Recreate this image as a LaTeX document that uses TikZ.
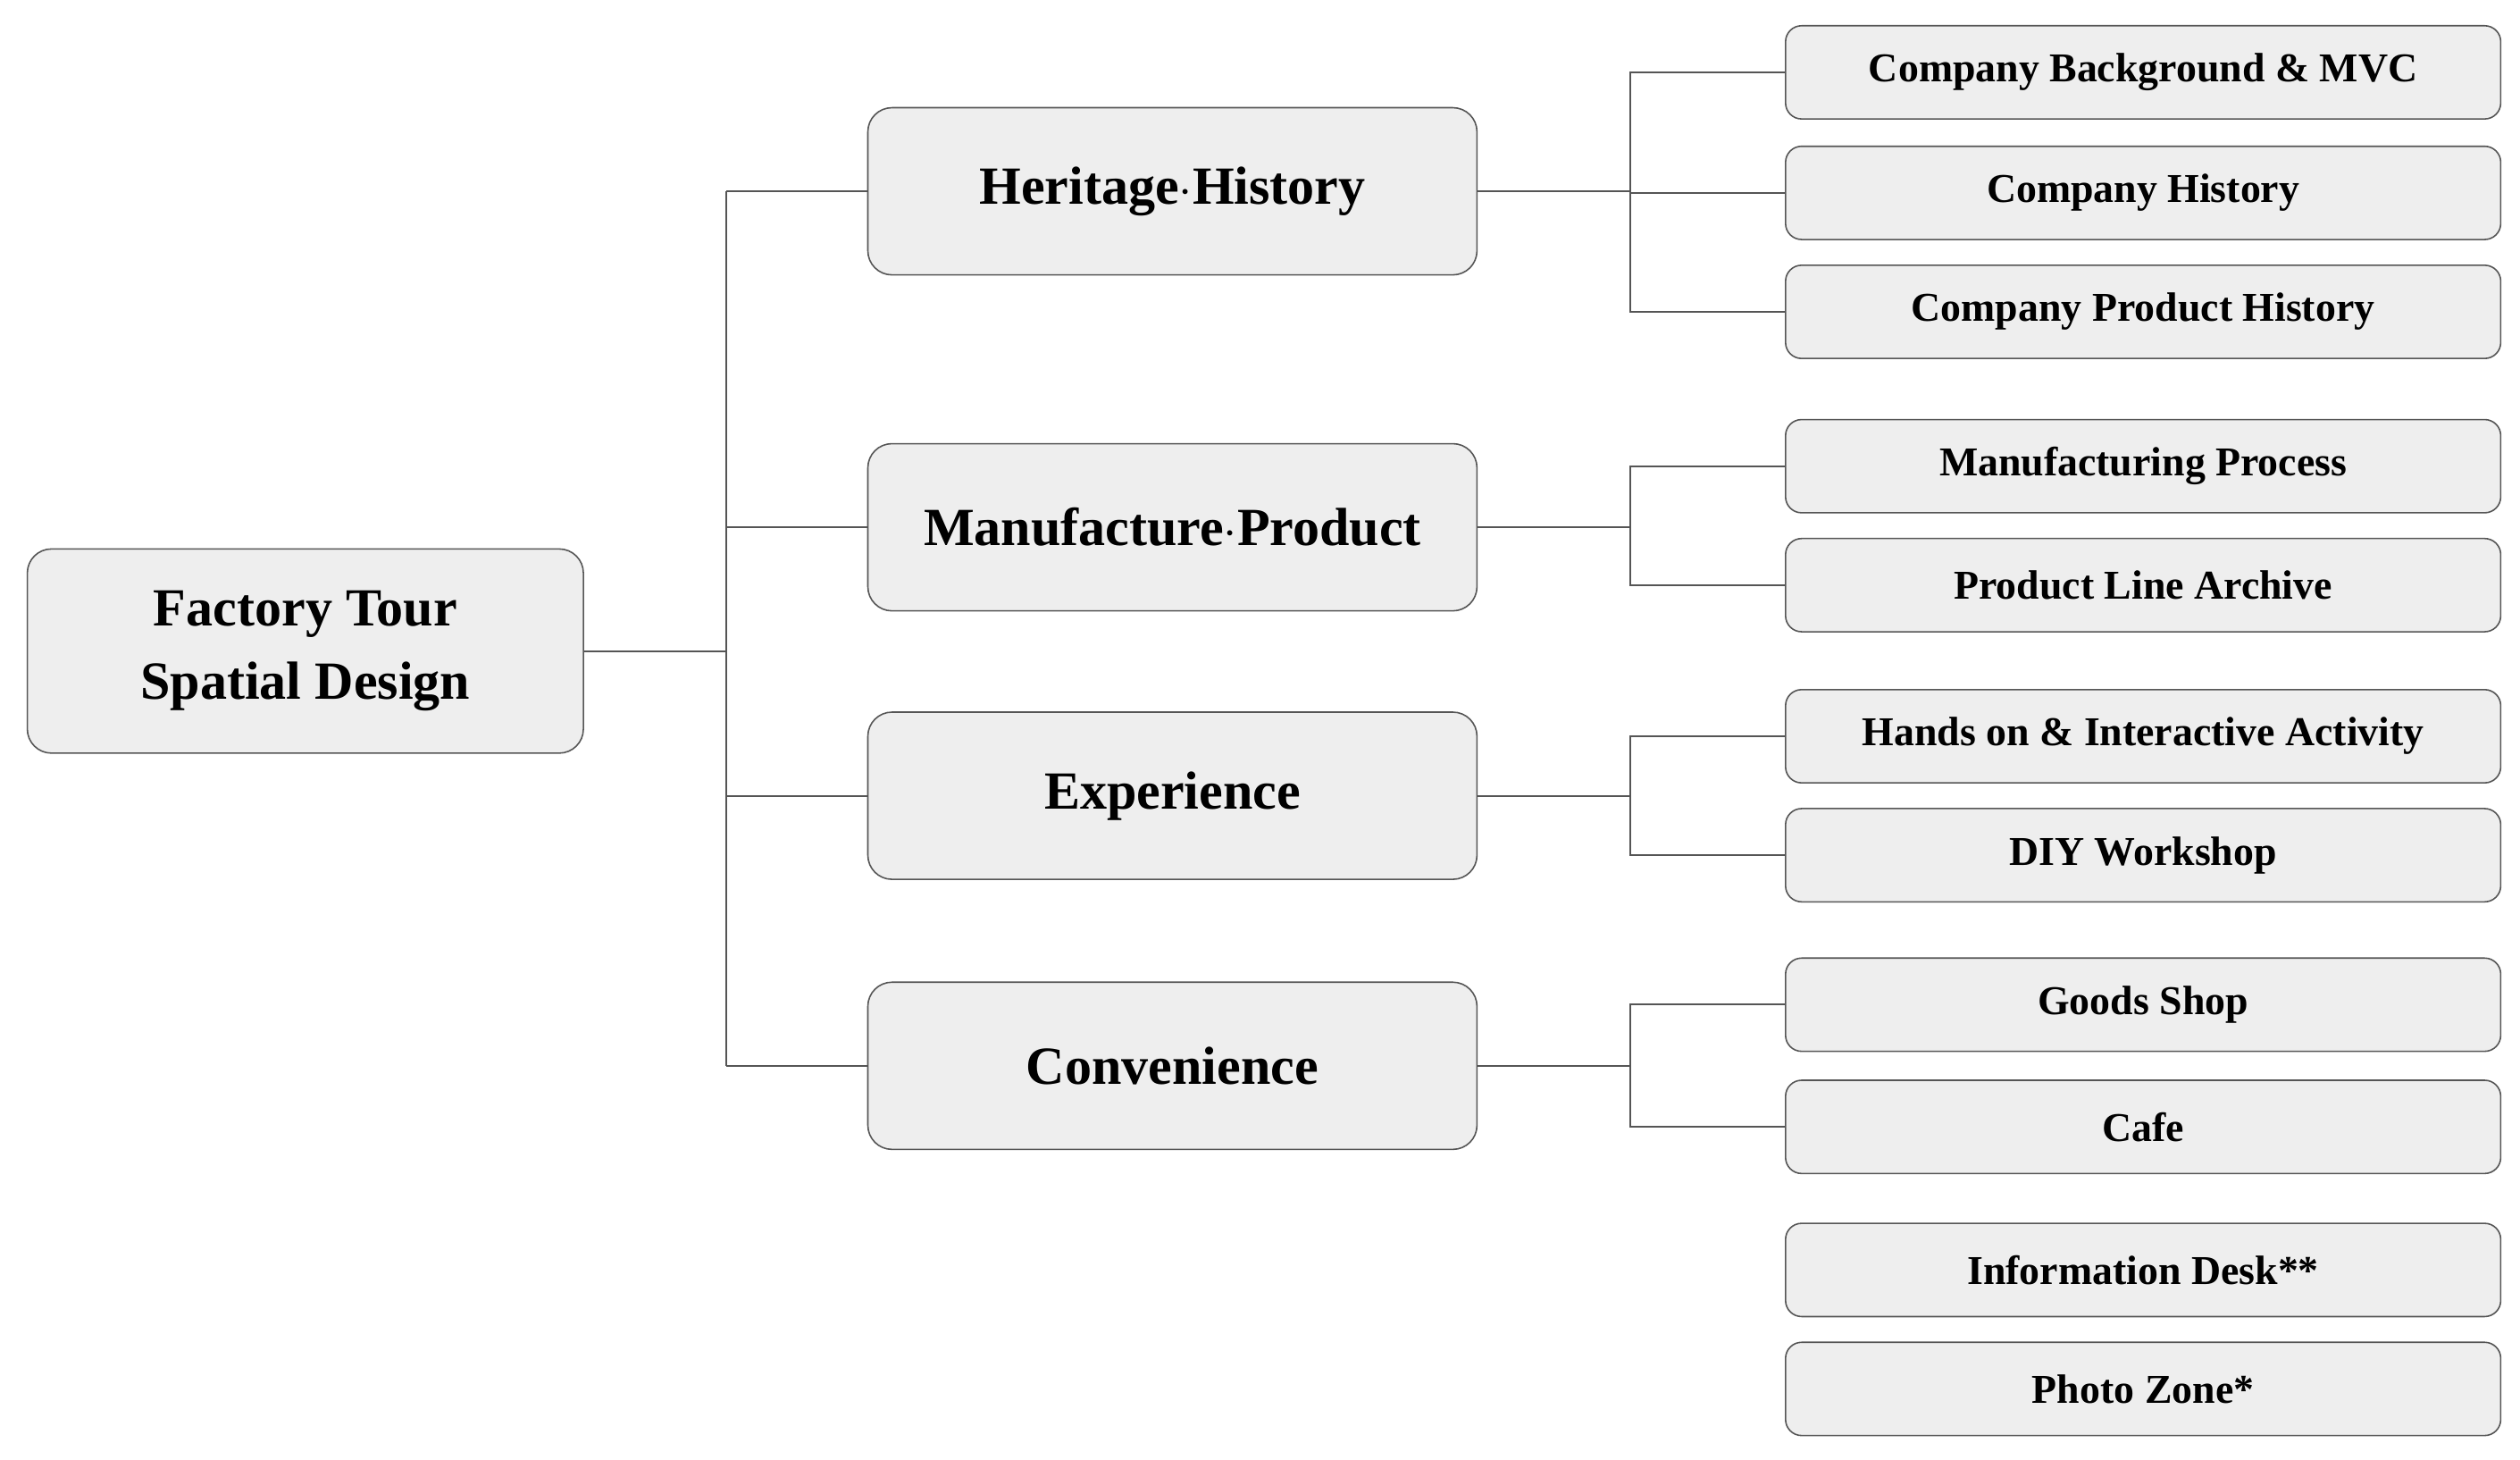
\documentclass[tikz,border=0pt]{standalone}
\usepackage{fontspec}
\setmainfont{Liberation Serif}
\usetikzlibrary{positioning}
\definecolor{boxfill}{HTML}{EEEEEE}
\definecolor{boxline}{HTML}{555555}
\tikzset{
root/.style={
    rectangle,
    draw=boxline,
    fill=boxfill,
    rounded corners=3mm,
    line width=0.5pt,
    minimum width=69.2mm,
    minimum height=25.4mm,
    align=center,
    font=\fontsize{19}{26}\selectfont\bfseries
},
area/.style={
    root,
    minimum width=75.8mm,
    minimum height=20.8mm
},
item/.style={
    root,
    rounded corners=2mm,
    minimum width=89mm,
    minimum height=11.6mm,
    font=\fontsize{14.5}{17}\selectfont\bfseries
},
link/.style={draw=boxline, line width=0.6pt}
}

\begin{document}
\begin{tikzpicture}[x=0.2mm, y=-0.2mm]
    \useasboundingbox (0,0) rectangle (1568,908);

    % node placement
    \node[root] (R) at (190,405) {Factory Tour\\Spatial Design};

    \node[area] (H) at (729.5,119) {Heritage$\cdot$History};
    \node[area] (M) at (729.5,328) {Manufacture$\cdot$Product};
    \node[area] (E) at (729.5,495) {Experience};
    \node[area] (C) at (729.5,663) {Convenience};

    \node[item] (H1) at (1333.5,45) {Company Background \& MVC};
    \node[item] (H2) at (1333.5,120) {Company History};
    \node[item] (H3) at (1333.5,194) {Company Product History};
    \node[item] (M1) at (1333.5,290) {Manufacturing Process};
    \node[item] (M2) at (1333.5,364) {Product Line Archive};
    \node[item] (E1) at (1333.5,458) {Hands on \& Interactive Activity};
    \node[item] (E2) at (1333.5,532) {DIY Workshop};
    \node[item] (C1) at (1333.5,625) {Goods Shop};
    \node[item] (C2) at (1333.5,701) {Cafe};
    \node[item] (X1) at (1333.5,790) {Information Desk**};
    \node[item] (X2) at (1333.5,864) {Photo Zone*};

    % edges
    \coordinate (trunk) at (452,405);
    \draw[link] (R.east) -- (trunk);
    \foreach \a in {H,M,E,C}
        \draw[link] (trunk |- \a.west) -- (\a.west);
    \draw[link] (trunk |- H.west) -- (trunk |- C.west);

    \foreach \a/\b in {H/H1,H/H2,H/H3,M/M1,M/M2,E/E1,E/E2,C/C1,C/C2}
        \draw[link] (\a.east) -| ([xshift=-19.2mm]\b.west) -- (\b.west);

\end{tikzpicture}
\end{document}
